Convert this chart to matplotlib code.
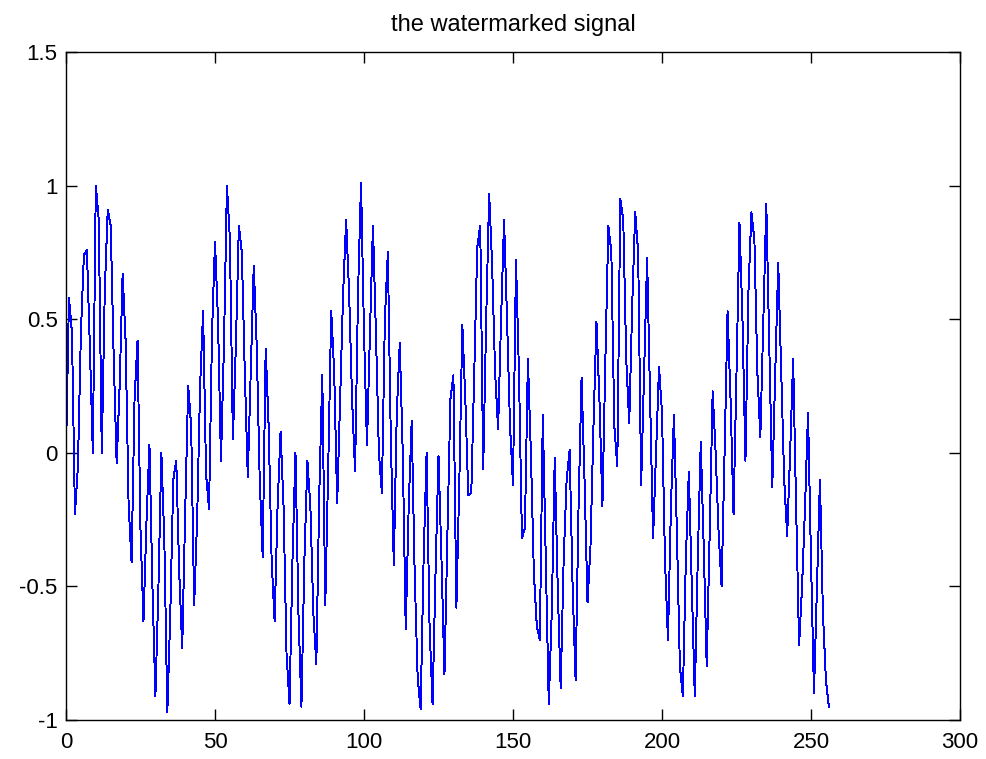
import matplotlib
matplotlib.use("Agg")
import matplotlib.pyplot as plt
import numpy as np

# samples, x = 0..256
signal = [
    0.00, 0.58, 0.45, -0.23, -0.05, 0.45, 0.74, 0.76, 0.40, 0.00,
    1.00, 0.87, 0.00, 0.60, 0.91, 0.85, 0.36, -0.04, 0.25, 0.67,
    0.42, -0.19, -0.41, 0.20, 0.42, -0.29, -0.63, -0.26, 0.03, -0.50,
    -0.91, -0.51, 0.00, -0.33, -0.97, -0.60, -0.10, -0.03, -0.45, -0.73,
    -0.22, 0.25, 0.10, -0.57, -0.25, 0.25, 0.53, -0.08, -0.21, 0.45,
    0.79, 0.50, -0.03, 0.40, 1.00, 0.80, 0.05, 0.40, 0.85, 0.75,
    0.30, -0.09, 0.30, 0.70, 0.40, -0.10, -0.39, 0.39, 0.10, -0.40,
    -0.63, -0.20, 0.08, -0.20, -0.75, -0.94, -0.40, 0.00, -0.60, -0.95,
    -0.40, -0.03, -0.20, -0.60, -0.79, -0.15, 0.29, -0.57, -0.05, 0.53,
    0.30, -0.19, 0.20, 0.60, 0.87, 0.60, 0.20, -0.07, 0.60, 1.01,
    0.45, 0.03, 0.45, 0.85, 0.45, 0.00, -0.15, 0.50, 0.75, 0.05,
    -0.42, 0.15, 0.41, 0.00, -0.66, -0.20, 0.12, -0.45, -0.84, -0.96,
    -0.40, 0.00, -0.65, -0.94, -0.45, -0.01, -0.40, -0.83, -0.30, 0.20,
    0.29, -0.58, -0.10, 0.48, 0.20, -0.16, -0.15, 0.30, 0.77, 0.85,
    -0.06, 0.50, 0.97, 0.70, 0.30, 0.09, 0.50, 0.87, 0.50, 0.10,
    -0.12, 0.72, 0.30, -0.32, -0.28, 0.35, 0.00, -0.45, -0.65, -0.70,
    0.14, -0.40, -0.94, -0.60, -0.02, -0.50, -0.88, -0.40, -0.10, 0.01,
    -0.50, -0.85, -0.20, 0.28, -0.10, -0.56, -0.35, 0.10, 0.49, 0.20,
    -0.20, 0.35, 0.85, 0.75, 0.10, -0.05, 0.95, 0.87, 0.35, 0.11,
    0.55, 0.90, 0.75, -0.12, 0.30, 0.73, 0.20, -0.32, 0.00, 0.32,
    0.15, -0.40, -0.70, -0.20, 0.14, -0.30, -0.80, -0.91, -0.40, -0.07,
    -0.50, -0.91, -0.40, 0.04, -0.35, -0.80, -0.30, 0.23, 0.00, -0.30,
    -0.50, 0.00, 0.53, 0.20, -0.23, 0.30, 0.86, 0.50, -0.03, 0.60,
    0.90, 0.80, 0.30, 0.06, 0.50, 0.93, 0.40, -0.13, 0.30, 0.71,
    0.30, -0.10, -0.31, 0.00, 0.35, -0.20, -0.72, -0.50, -0.20, 0.15,
    -0.40, -0.90, -0.50, -0.10, -0.60, -0.85, -0.95,
]
x_ticks = [0, 50, 100, 150, 200, 250, 300]
y_ticks = [-1, -0.5, 0, 0.5, 1, 1.5]
y_labels = ["-1", "-0.5", "0", "0.5", "1", "1.5"]

plt.rcParams['font.family'] = ['Liberation Sans', 'DejaVu Sans']

fig = plt.figure(figsize=(9.87, 7.59), dpi=100)
ax = fig.add_axes([66 / 987, 39 / 759, 894 / 987, 668 / 759])

# 1 px, no smoothing, like the matlab figure
ax.plot(np.arange(len(signal)), signal, color=(0, 0, 1), linewidth=0.7,
        antialiased=False)

ax.set_xlim(0, 300)
ax.set_ylim(-1, 1.5)
ax.set_xticks(x_ticks)
ax.set_yticks(y_ticks)
ax.set_yticklabels(y_labels)
ax.tick_params(direction='in', length=8, width=1, top=True, right=True,
               labelsize=16)
ax.tick_params(axis='x', pad=9)
ax.tick_params(axis='y', pad=6)
for s in ax.spines.values():
    s.set_linewidth(1)
ax.set_title("the watermarked signal", fontsize=17, pad=15)

fig.savefig("out.png", dpi=100)
